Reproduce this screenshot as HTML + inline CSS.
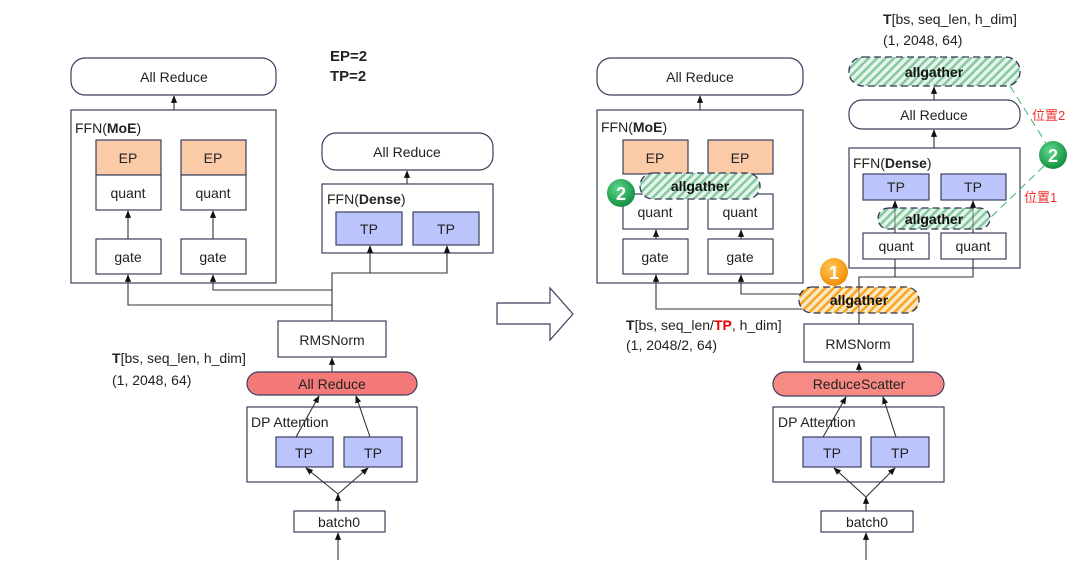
<!DOCTYPE html>
<html><head><meta charset="utf-8"><style>
html,body{margin:0;padding:0;background:#fff;}
svg{display:block;font-family:"Liberation Sans","Noto Sans CJK SC",sans-serif;}
</style></head><body>
<svg width="1080" height="568" viewBox="0 0 1080 568" xmlns="http://www.w3.org/2000/svg">
<defs>
<marker id="a" viewBox="0 0 10 10" refX="9" refY="5" markerWidth="7" markerHeight="7" orient="auto"><path d="M0,1 L10,5 L0,9 z" fill="#111"/></marker>
<pattern id="hg" width="6" height="6" patternUnits="userSpaceOnUse" patternTransform="rotate(45)"><rect width="6" height="6" fill="#e6f5ec"/><rect width="2.5" height="6" fill="#86c8a0"/></pattern>
<pattern id="ho" width="6" height="6" patternUnits="userSpaceOnUse" patternTransform="rotate(45)"><rect width="6" height="6" fill="#fde8c4"/><rect width="2.5" height="6" fill="#f5a623"/></pattern>
<radialGradient id="gg" cx="0.4" cy="0.35" r="0.7"><stop offset="0" stop-color="#5ed88a"/><stop offset="1" stop-color="#0f8a3c"/></radialGradient>
<radialGradient id="og" cx="0.4" cy="0.35" r="0.7"><stop offset="0" stop-color="#ffc85a"/><stop offset="1" stop-color="#f08a00"/></radialGradient>
</defs>
<g stroke="#3a3f5c" stroke-width="1.2" fill="none" font-size="14" >
<rect x="71" y="58" width="205" height="37" rx="14" fill="#fff"/>
<rect x="71" y="110" width="205" height="173" fill="#fff"/>
<rect x="96" y="140" width="65" height="35" fill="#fbcba8"/>
<rect x="181" y="140" width="65" height="35" fill="#fbcba8"/>
<rect x="96" y="175" width="65" height="35" fill="#fff"/>
<rect x="181" y="175" width="65" height="35" fill="#fff"/>
<rect x="96" y="239" width="65" height="35" fill="#fff"/>
<rect x="181" y="239" width="65" height="35" fill="#fff"/>
<rect x="322" y="133" width="171" height="37" rx="14" fill="#fff"/>
<rect x="322" y="184" width="171" height="69" fill="#fff"/>
<rect x="336" y="212" width="66" height="33" fill="#bcc5fb"/>
<rect x="413" y="212" width="66" height="33" fill="#bcc5fb"/>
<rect x="278" y="321" width="108" height="36" fill="#fff"/>
<rect x="247" y="372" width="170" height="23" rx="11.5" fill="#f47a7a"/>
<rect x="247" y="407" width="170" height="75" fill="#fff"/>
<rect x="276" y="437" width="57" height="30" fill="#bcc5fb"/>
<rect x="344" y="437" width="58" height="30" fill="#bcc5fb"/>
<rect x="294" y="511" width="91" height="21" fill="#fff"/>
</g>
<g stroke="#333" stroke-width="1.1" fill="none">
<line x1="174" y1="110" x2="174" y2="96" marker-end="url(#a)"/>
<line x1="128" y1="239" x2="128" y2="211" marker-end="url(#a)"/>
<line x1="213" y1="239" x2="213" y2="211" marker-end="url(#a)"/>
<line x1="407" y1="184" x2="407" y2="171" marker-end="url(#a)"/>
<polyline points="332,321 332,273 370,273 370,246" marker-end="url(#a)"/>
<polyline points="332,273 447,273 447,246" marker-end="url(#a)"/>
<polyline points="332,290 213,290 213,275" marker-end="url(#a)"/>
<polyline points="332,305 128,305 128,275" marker-end="url(#a)"/>
<line x1="332" y1="372" x2="332" y2="358" marker-end="url(#a)"/>
<line x1="296" y1="437" x2="319" y2="396" marker-end="url(#a)"/>
<line x1="370" y1="437" x2="356" y2="396" marker-end="url(#a)"/>
<polyline points="338,494 306,468" marker-end="url(#a)"/>
<polyline points="338,494 368,468" marker-end="url(#a)"/>
<line x1="338" y1="511" x2="338" y2="494" marker-end="url(#a)"/>
<line x1="338" y1="560" x2="338" y2="533" marker-end="url(#a)"/>
</g>
<g font-size="14" fill="#222" text-anchor="middle">
<text x="174" y="82">All Reduce</text>
<text x="128" y="163">EP</text><text x="213" y="163">EP</text>
<text x="128" y="198">quant</text><text x="213" y="198">quant</text>
<text x="128" y="262">gate</text><text x="213" y="262">gate</text>
<text x="407" y="157">All Reduce</text>
<text x="369" y="234">TP</text><text x="446" y="234">TP</text>
<text x="332" y="345">RMSNorm</text>
<text x="332" y="389">All Reduce</text>
<text x="304" y="458">TP</text><text x="373" y="458">TP</text>
<text x="339" y="527">batch0</text>
</g>
<g font-size="14" fill="#222">
<text x="75" y="133">FFN(<tspan font-weight="bold">MoE</tspan>)</text>
<text x="327" y="204">FFN(<tspan font-weight="bold">Dense</tspan>)</text>
<text x="251" y="427">DP Attention</text>
<text x="112" y="363"><tspan font-weight="bold">T</tspan>[bs, seq_len, h_dim]</text>
<text x="112" y="385">(1, 2048, 64)</text>
<text x="330" y="61" font-size="15" font-weight="bold">EP=2</text>
<text x="330" y="81" font-size="15" font-weight="bold">TP=2</text>
</g>
<polygon points="497,303 550,303 550,288 573,314 550,340 550,324 497,324" fill="#fff" stroke="#3a3f5c" stroke-width="1.2"/>
<g stroke="#3a3f5c" stroke-width="1.2" fill="none">
<rect x="597" y="58" width="206" height="37" rx="14" fill="#fff"/>
<rect x="597" y="110" width="206" height="173" fill="#fff"/>
<rect x="623" y="140" width="65" height="34" fill="#fbcba8"/>
<rect x="708" y="140" width="65" height="34" fill="#fbcba8"/>
<rect x="623" y="194" width="65" height="35" fill="#fff"/>
<rect x="708" y="194" width="65" height="35" fill="#fff"/>
<rect x="623" y="239" width="65" height="35" fill="#fff"/>
<rect x="708" y="239" width="65" height="35" fill="#fff"/>
<rect x="849" y="100" width="171" height="29" rx="13" fill="#fff"/>
<rect x="849" y="148" width="171" height="120" fill="#fff"/>
<rect x="863" y="174" width="66" height="26" fill="#bcc5fb"/>
<rect x="941" y="174" width="65" height="26" fill="#bcc5fb"/>
<rect x="863" y="233" width="66" height="26" fill="#fff"/>
<rect x="941" y="233" width="65" height="26" fill="#fff"/>
<rect x="804" y="324" width="109" height="38" fill="#fff"/>
<rect x="773" y="372" width="171" height="24" rx="12" fill="#f88a86"/>
<rect x="773" y="407" width="171" height="75" fill="#fff"/>
<rect x="803" y="437" width="58" height="30" fill="#bcc5fb"/>
<rect x="871" y="437" width="58" height="30" fill="#bcc5fb"/>
<rect x="821" y="511" width="92" height="21" fill="#fff"/>
</g>
<g stroke="#333" stroke-width="1.1" fill="none">
<line x1="700" y1="110" x2="700" y2="96" marker-end="url(#a)"/>
<line x1="656" y1="239" x2="656" y2="230" marker-end="url(#a)"/>
<line x1="741" y1="239" x2="741" y2="230" marker-end="url(#a)"/>
<polyline points="858,309 656,309 656,275" marker-end="url(#a)"/>
<polyline points="858,294 741,294 741,275" marker-end="url(#a)"/>
<polyline points="859,324 859,277 973,277 973,259"/>
<line x1="895" y1="277" x2="895" y2="259"/>
<line x1="895" y1="233" x2="895" y2="201" marker-end="url(#a)"/>
<line x1="973" y1="233" x2="973" y2="201" marker-end="url(#a)"/>
<line x1="934" y1="148" x2="934" y2="130" marker-end="url(#a)"/>
<line x1="934" y1="100" x2="934" y2="87" marker-end="url(#a)"/>
<line x1="859" y1="372" x2="859" y2="363" marker-end="url(#a)"/>
<line x1="823" y1="437" x2="846" y2="397" marker-end="url(#a)"/>
<line x1="896" y1="437" x2="883" y2="397" marker-end="url(#a)"/>
<line x1="866" y1="511" x2="866" y2="497" marker-end="url(#a)"/>
<polyline points="866,497 834,468" marker-end="url(#a)"/>
<polyline points="866,497 895,468" marker-end="url(#a)"/>
<line x1="866" y1="560" x2="866" y2="533" marker-end="url(#a)"/>
</g>
<g stroke="#2f3550" stroke-width="1.3" stroke-dasharray="7,4">
<rect x="640" y="173" width="120" height="26" rx="13" fill="url(#hg)"/>
<rect x="849" y="57" width="171" height="29" rx="14" fill="url(#hg)"/>
<rect x="878" y="208" width="112" height="21" rx="10.5" fill="url(#hg)"/>
<rect x="799" y="287" width="120" height="26" rx="13" fill="url(#ho)"/>
</g>
<g stroke="#333" stroke-width="1" opacity="0.6"><line x1="895" y1="229" x2="895" y2="208"/><line x1="973" y1="229" x2="973" y2="208"/><line x1="859" y1="313" x2="859" y2="287"/></g>
<g stroke="#3cb371" stroke-width="1" stroke-dasharray="8,5" fill="none">
<line x1="1010" y1="86" x2="1046" y2="143"/>
<line x1="1044" y1="166" x2="990" y2="218"/>
</g>
<circle cx="621" cy="193" r="14" fill="url(#gg)"/>
<circle cx="1053" cy="155" r="14" fill="url(#gg)"/>
<circle cx="834" cy="272" r="14" fill="url(#og)"/>
<g font-size="18" font-weight="bold" fill="#fff" text-anchor="middle">
<text x="621" y="200">2</text><text x="1053" y="162">2</text><text x="834" y="279">1</text>
</g>
<g font-size="14" fill="#222" text-anchor="middle">
<text x="700" y="82">All Reduce</text>
<text x="655" y="163">EP</text><text x="740" y="163">EP</text>
<text x="655" y="217">quant</text><text x="740" y="217">quant</text>
<text x="655" y="262">gate</text><text x="740" y="262">gate</text>
<text x="934" y="120">All Reduce</text>
<text x="896" y="192">TP</text><text x="973" y="192">TP</text>
<text x="896" y="251">quant</text><text x="973" y="251">quant</text>
<text x="858" y="349">RMSNorm</text>
<text x="859" y="389">ReduceScatter</text>
<text x="832" y="458">TP</text><text x="900" y="458">TP</text>
<text x="867" y="527">batch0</text>
</g>
<g font-size="14" font-weight="bold" fill="#111" text-anchor="middle">
<text x="700" y="191">allgather</text>
<text x="934" y="77">allgather</text>
<text x="934" y="224">allgather</text>
<text x="859" y="305">allgather</text>
</g>
<g font-size="14" fill="#222">
<text x="601" y="132">FFN(<tspan font-weight="bold">MoE</tspan>)</text>
<text x="853" y="168">FFN(<tspan font-weight="bold">Dense</tspan>)</text>
<text x="778" y="427">DP Attention</text>
<text x="883" y="24"><tspan font-weight="bold">T</tspan>[bs, seq_len, h_dim]</text>
<text x="883" y="45">(1, 2048, 64)</text>
<text x="626" y="330"><tspan font-weight="bold">T</tspan>[bs, seq_len/<tspan font-weight="bold" fill="#e00">TP</tspan>, h_dim]</text>
<text x="626" y="350">(1, 2048/2, 64)</text>
<text x="1032" y="120" fill="#f03030" font-size="13">位置2</text>
<text x="1024" y="202" fill="#f03030" font-size="13">位置1</text>
</g>
</svg>
</body></html>
